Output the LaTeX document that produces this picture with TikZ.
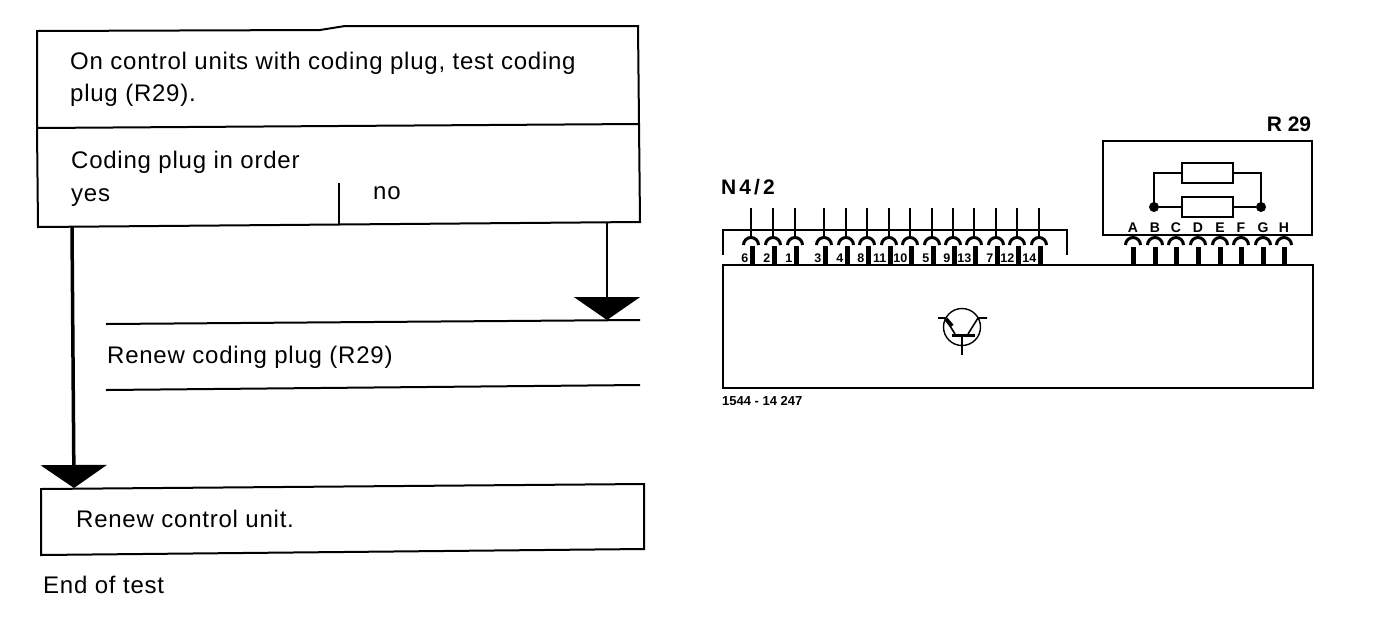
\documentclass[tikz,border=0pt]{standalone}
\usepackage{fontspec}
\setmainfont{Liberation Sans}
\newfontfamily\flowfont[LetterSpace=3.2]{Liberation Sans}
\newfontfamily\widefont[LetterSpace=15]{Liberation Sans}
\usetikzlibrary{arrows.meta,calc,positioning}
\tikzset{
flowtext/.style={anchor=base west,inner sep=0pt,font=\flowfont\fontsize{24}{24}\selectfont},
flowline/.style={line width=2pt},
flowarrow/.style={line width=3.5pt,-{Triangle[width=66pt,length=23pt]}},
thinarrow/.style={line width=2.2pt,-{Triangle[width=66pt,length=23pt]}},
unitbox/.style={draw,line width=1.7pt,inner sep=0pt,outer sep=0pt,anchor=north west},
pinwire/.style={line width=1.2pt},
pinarc/.style={line width=3pt},
pinbar/.style={line width=5pt},
pinlabel/.style={inner sep=0pt,font=\fontsize{12.5}{12.5}\selectfont\bfseries},
letterlabel/.style={inner sep=0pt,anchor=base,font=\fontsize{14}{14}\selectfont\bfseries},
partlabel/.style={inner sep=0pt,anchor=base,font=\fontsize{21}{21}\selectfont\bfseries},
circuitline/.style={line width=1.6pt},
resistor/.style={draw,line width=2pt,inner sep=0pt,outer sep=0pt,minimum width=51pt,minimum height=20pt}
}
\begin{document}
\begin{tikzpicture}[x=1pt,y=-1pt]
\useasboundingbox (0,0) rectangle (1376,630);
% flow chart
\coordinate (testNW) at (37,31);
\coordinate (testN) at (320,30);
\coordinate (testNb) at (345,26);
\coordinate (testNE) at (638,26);
\coordinate (divW) at (37,128);
\coordinate (divE) at (639,124);
\coordinate (testSW) at (38,227);
\coordinate (testSE) at (640,222);
\draw[flowline] (testNW)--(testN)--(testNb)--(testNE)--(divE)--(testSE)--(testSW)--(divW)--cycle;
\draw[flowline] (divW)--(divE);
\coordinate (unitNW) at (41,489);
\coordinate (unitNE) at (644,484);
\coordinate (unitSE) at (644,549);
\coordinate (unitSW) at (41,555);
\draw[flowline] (unitNW)--(unitNE)--(unitSE)--(unitSW)--cycle;
\node[flowtext] (test1) at (70,69) {On control units with coding plug, test coding};
\node[flowtext] (test2) at (70,101) {plug (R29).};
\node[flowtext] (inorder) at (71,168) {Coding plug in order};
\node[flowtext] (yes) at (71,201) {yes};
\node[flowtext] (no) at (373,199) {no};
\node[flowtext] (renew) at (107,363) {Renew coding plug (R29)};
\node[flowtext] (unit) at (76,527) {Renew control unit.};
\node[flowtext] (endtest) at (43,593) {End of test};
\coordinate (splittop) at (339,183);
\coordinate (splitfoot) at (339,225);
\draw[flowline] (splittop)--(splitfoot);
\coordinate (yesfoot) at (72,227);
\coordinate (yestip) at (74,488);
\coordinate (nofoot) at (607,223);
\coordinate (notip) at (607,320);
\draw[flowarrow] (yesfoot)--(yestip);
\draw[thinarrow] (nofoot)--(notip);
\coordinate (renewA) at (106,324);
\coordinate (renewB) at (640,320);
\coordinate (renewC) at (106,390);
\coordinate (renewD) at (640,385);
\draw[flowline] (renewA)--(renewB);
\draw[flowline] (renewC)--(renewD);
% control unit
\node[partlabel,font=\widefont\bfseries\fontsize{21}{21}\selectfont] (N42) at (748,194) {N4/2};
\coordinate (NA) at (723,255);
\coordinate (NB) at (723,230);
\coordinate (NC) at (1067,230);
\coordinate (ND) at (1067,255);
\draw[flowline] (NA)--(NB)--(NC)--(ND);
\node[unitbox,minimum width=590pt,minimum height=123pt] (unitbody) at (723,265) {};
\foreach \x/\lab in {751/6,773/2,795/1,824/3,846/4,867/8,889/11,910/10,932/5,953/9,974/13,996/7,1017/12,1039/14} {
\coordinate (wt\lab) at (\x,208);
\coordinate (wb\lab) at (\x,236);
\draw[pinwire] (wt\lab)--(wb\lab);
\draw[pinarc] (\x-7.5,245) arc[start angle=180,end angle=360,radius=7.5];
\coordinate (bt\lab) at (\x+1,246);
\coordinate (bb\lab) at (\x+1,265);
\draw[pinbar] (bt\lab)--(bb\lab);
\node[pinlabel,anchor=base east] (pin\lab) at (\x-2.5,262) {\lab};
}
% coding plug
\node[partlabel] (R29) at (1289,131) {R 29};
\node[unitbox,minimum width=209pt,minimum height=94pt] (plugbox) at (1103,141) {};
\node[resistor] (resA) at (1207,173) {};
\node[resistor] (resB) at (1207,207) {};
\node[circle,fill,inner sep=0pt,minimum size=10pt] (dotL) at (1154,207) {};
\node[circle,fill,inner sep=0pt,minimum size=10pt] (dotR) at (1261,207) {};
\draw[circuitline] (resA.west)-|(dotL.center);
\draw[circuitline] (resA.east)-|(dotR.center);
\draw[circuitline] (dotL)--(resB.west);
\draw[circuitline] (resB.east)--(dotR);
\foreach \x/\lab in {1133/A,1155/B,1176/C,1198/D,1220/E,1241/F,1263/G,1284/H} {
\node[letterlabel] (pin\lab) at (\x,232) {\lab};
\draw[pinarc] (\x-7.5,245) arc[start angle=180,end angle=360,radius=7.5];
\coordinate (bt\lab) at (\x,247);
\coordinate (bb\lab) at (\x,264);
\draw[pinbar] (bt\lab)--(bb\lab);
}
% transistor
\node[circle,draw,line width=1.4pt,inner sep=0pt,minimum size=37pt] (trans) at (962,327) {};
\coordinate (barL) at (952,335);
\coordinate (barR) at (975,335);
\draw[line width=3pt] (barL)--(barR);
\coordinate (baseA) at (962,335);
\coordinate (baseB) at (962,355);
\draw[circuitline] (baseA)--(baseB);
\coordinate (emA) at (938,318);
\coordinate (emB) at (945,318);
\coordinate (emC) at (955,334);
\draw[circuitline] (emA)--(emB)--(emC);
\coordinate (arrA) at (946,319);
\coordinate (arrB) at (952,326);
\draw[line width=4pt] (arrA)--(arrB);
\coordinate (colA) at (987,318);
\coordinate (colB) at (978,318);
\coordinate (colC) at (968,334);
\draw[circuitline] (colA)--(colB)--(colC);
\node[pinlabel,anchor=base west,font=\fontsize{13}{13}\selectfont\bfseries] (figno) at (722,405) {1544 - 14 247};
\end{tikzpicture}
\end{document}
